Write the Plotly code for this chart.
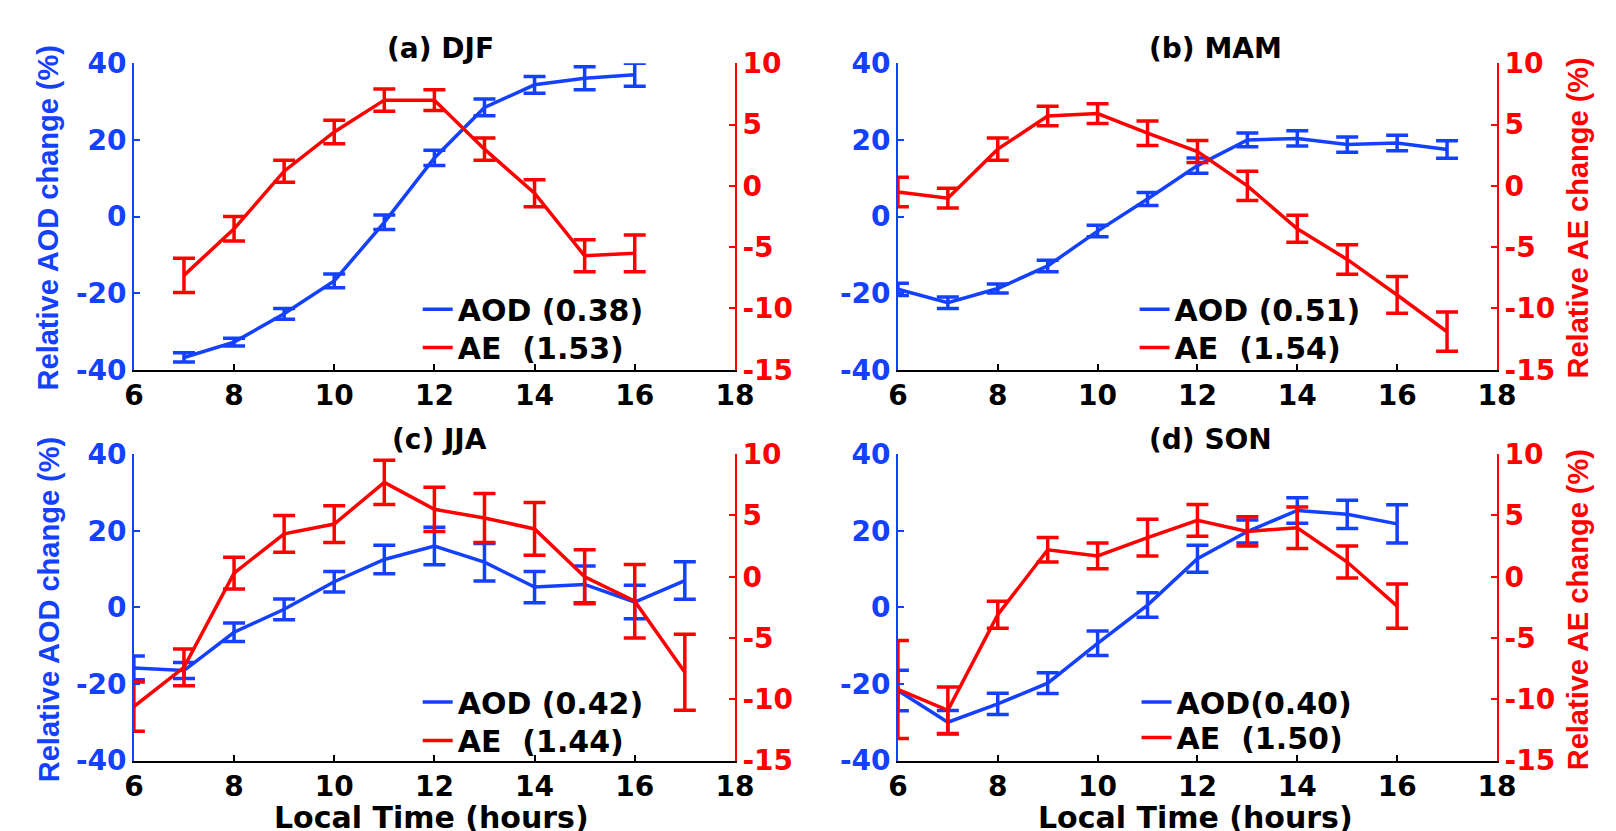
import plotly.graph_objects as go

# ---------------- data ----------------
hours_a = [7, 8, 9, 10, 11, 12, 13, 14, 15, 16]
aod_a = [-36.8, -32.8, -25.4, -16.8, -1.5, 15.3, 28.5, 34.4, 36.1, 37.0]
aod_a_err = [1.2, 1.0, 1.4, 1.8, 1.9, 2.0, 2.2, 2.2, 3.0, 3.0]
ae_a = [-7.3, -3.5, 1.2, 4.4, 7.0, 7.0, 3.0, -0.6, -5.7, -5.5]
ae_a_err = [1.4, 1.0, 0.9, 0.95, 0.9, 0.85, 0.9, 1.1, 1.3, 1.5]

hours_b = [6, 7, 8, 9, 10, 11, 12, 13, 14, 15, 16, 17]
aod_b = [-19.0, -22.5, -18.8, -12.9, -3.8, 4.6, 13.3, 20.0, 20.4, 18.8, 19.2, 17.5]
aod_b_err = [1.6, 1.5, 1.2, 1.5, 1.5, 1.7, 2.0, 1.8, 2.0, 2.0, 2.0, 2.3]
ae_b = [-0.5, -1.0, 3.0, 5.7, 5.9, 4.3, 2.8, 0.0, -3.5, -6.0, -8.9, -11.9]
ae_b_err = [1.2, 0.8, 0.9, 0.8, 0.8, 1.0, 0.9, 1.2, 1.1, 1.2, 1.5, 1.6]

hours_c = [6, 7, 8, 9, 10, 11, 12, 13, 14, 15, 16, 17]
aod_c = [-15.8, -16.5, -6.5, -0.5, 6.7, 12.5, 16.0, 11.8, 5.3, 6.0, 1.4, 7.0]
aod_c_err = [3.1, 2.1, 2.4, 2.7, 2.7, 3.7, 4.9, 4.9, 4.1, 4.8, 4.4, 4.9]
ae_c = [-10.6, -7.4, 0.3, 3.5, 4.3, 7.7, 5.5, 4.8, 3.9, 0.0, -2.0, -7.8]
ae_c_err = [2.0, 1.5, 1.3, 1.5, 1.5, 1.8, 1.8, 2.0, 2.15, 2.2, 3.0, 3.1]

hours_d = [6, 7, 8, 9, 10, 11, 12, 13, 14, 15, 16]
aod_d = [-21.7, -30.0, -25.2, -19.8, -9.4, 0.6, 12.7, 19.8, 25.3, 24.3, 21.8]
aod_d_err = [5.3, 3.1, 2.8, 2.7, 3.2, 3.2, 3.5, 3.0, 3.3, 3.7, 5.0]
ae_d = [-9.2, -10.9, -3.1, 2.2, 1.7, 3.2, 4.6, 3.7, 4.0, 1.2, -2.4]
ae_d_err = [4.0, 1.9, 1.1, 1.0, 1.05, 1.5, 1.3, 1.2, 1.7, 1.3, 1.8]

panel_titles = ["(a) DJF", "(b) MAM", "(c) JJA", "(d) SON"]
aod_names = ["AOD\u00a0(0.38)", "AOD\u00a0(0.51)", "AOD\u00a0(0.42)", "AOD(0.40)"]
ae_names = ["AE\u00a0\u00a0(1.53)", "AE\u00a0\u00a0(1.54)", "AE\u00a0\u00a0(1.44)", "AE\u00a0\u00a0(1.50)"]

x_tickvals = [6, 8, 10, 12, 14, 16, 18]
x_ticktext = ["6", "8", "10", "12", "14", "16", "18"]
aod_tickvals = [-40, -20, 0, 20, 40]
aod_ticktext = ["-40", "-20", "0", "20", "40"]
ae_tickvals = [-15, -10, -5, 0, 5, 10]
ae_ticktext = ["-15", "-10", "-5", "0", "5", "10"]

# ---------------- style ----------------
W, H = 1616, 831
BLUE = "#1440FF"
RED = "#FF0000"
WIDE = "DejaVu Sans"
ARIAL = "Liberation Sans, Arial"

def px_x(p):
    return p / W

def px_y(p):
    return 1 - p / H

x_doms = [[px_x(118), px_x(730)], [px_x(896), px_x(1506)]] * 2
y_doms = [[px_y(360), px_y(41)]] * 2 + [[px_y(767), px_y(448)]] * 2

# legend rows (legend-box x, row-centre y) in pixels, per panel
leg_x = [407, 1137, 407, 1139]
leg_y_aod = [297, 297, 706, 706]
leg_y_ae = [337, 337, 746, 743]

fig = go.Figure()

panels = [
    (hours_a, aod_a, aod_a_err, ae_a, ae_a_err),
    (hours_b, aod_b, aod_b_err, ae_b, ae_b_err),
    (hours_c, aod_c, aod_c_err, ae_c, ae_c_err),
    (hours_d, aod_d, aod_d_err, ae_d, ae_d_err),
]

layout = dict(
    width=W, height=H,
    margin=dict(l=0, r=0, t=0, b=0),
    paper_bgcolor="white", plot_bgcolor="white",
    showlegend=True,
)

def leg_key(k):
    return "legend" if k == 1 else f"legend{k}"

for i, (hrs, aod, aod_e, ae, ae_e) in enumerate(panels):
    n = i + 1
    xs = "x" if n == 1 else f"x{n}"
    yl = "y" if n == 1 else f"y{n}"
    yr = f"y{n + 4}"
    k_aod = 2 * i + 1
    k_ae = 2 * i + 2
    fig.add_trace(go.Scatter(
        x=hrs, y=aod, mode="lines", name=aod_names[i],
        line=dict(color=BLUE, width=3.5),
        error_y=dict(type="data", array=aod_e, color=BLUE, thickness=3.5, width=11),
        xaxis=xs, yaxis=yl, legend=leg_key(k_aod), showlegend=True,
    ))
    fig.add_trace(go.Scatter(
        x=hrs, y=ae, mode="lines", name=ae_names[i],
        line=dict(color=RED, width=3.5),
        error_y=dict(type="data", array=ae_e, color=RED, thickness=3.5, width=11),
        xaxis=xs, yaxis=yr, legend=leg_key(k_ae), showlegend=True,
    ))
    for k, yy in ((k_aod, leg_y_aod[i]), (k_ae, leg_y_ae[i])):
        layout[leg_key(k)] = dict(
            x=px_x(leg_x[i]), y=px_y(yy), xanchor="left", yanchor="middle",
            bgcolor="rgba(0,0,0,0)", borderwidth=0,
            font=dict(family=WIDE, size=30, color="black", weight="bold"),
        )

TICK_SIZE = 28
for i in range(4):
    n = i + 1
    sx = "" if n == 1 else str(n)
    layout[f"xaxis{sx}"] = dict(
        domain=x_doms[i], range=[6, 18], tickvals=x_tickvals, ticktext=x_ticktext,
        ticks="inside", ticklen=6, tickwidth=1.5, tickcolor="black",
        showline=True, linecolor="black", linewidth=2,
        showgrid=False, zeroline=False, anchor=f"y{sx}",
        tickfont=dict(family=WIDE, size=TICK_SIZE, color="black", weight="bold"),
    )
    layout[f"yaxis{sx}"] = dict(
        domain=y_doms[i], range=[-40, 40], tickvals=aod_tickvals, ticktext=aod_ticktext,
        ticks="inside", ticklen=6, tickwidth=1.5, tickcolor=BLUE,
        showline=True, linecolor=BLUE, linewidth=1.5,
        showgrid=False, zeroline=False, anchor=f"x{sx}",
        tickfont=dict(family=WIDE, size=TICK_SIZE, color=BLUE, weight="bold"),
    )
    layout[f"yaxis{n + 4}"] = dict(
        range=[-15, 10], tickvals=ae_tickvals, ticktext=ae_ticktext,
        overlaying=f"y{sx}", side="right", anchor=f"x{sx}",
        ticks="inside", ticklen=6, tickwidth=1.5, tickcolor=RED,
        showline=True, linecolor=RED, linewidth=2,
        showgrid=False, zeroline=False,
        tickfont=dict(family=WIDE, size=TICK_SIZE, color=RED, weight="bold"),
    )

fig.update_layout(**layout)

annots = []
title_pos = [(430, 26), (1219, 26), (429, 433), (1214, 433)]
for t, (tx, ty) in zip(panel_titles, title_pos):
    annots.append(dict(text=t, x=px_x(tx), y=px_y(ty), xref="paper", yref="paper",
                       showarrow=False, xanchor="center", yanchor="middle",
                       font=dict(family=WIDE, size=28, color="black", weight="bold")))
for yc in [202, 610]:
    annots.append(dict(text="Relative AOD change (%)", x=px_x(31), y=px_y(yc),
                       xref="paper", yref="paper", showarrow=False, textangle=-90,
                       xanchor="center", yanchor="middle",
                       font=dict(family=ARIAL, size=29, color=BLUE, weight="bold")))
    annots.append(dict(text="Relative AE change (%)", x=px_x(1588), y=px_y(yc),
                       xref="paper", yref="paper", showarrow=False, textangle=-90,
                       xanchor="center", yanchor="middle",
                       font=dict(family=ARIAL, size=29, color=RED, weight="bold")))
for xc in [421, 1199]:
    annots.append(dict(text="Local Time (hours)", x=px_x(xc), y=px_y(806),
                       xref="paper", yref="paper", showarrow=False,
                       xanchor="center", yanchor="top",
                       font=dict(family=WIDE, size=30, color="black", weight="bold")))
fig.update_layout(annotations=annots)

fig.write_html("out.html")
